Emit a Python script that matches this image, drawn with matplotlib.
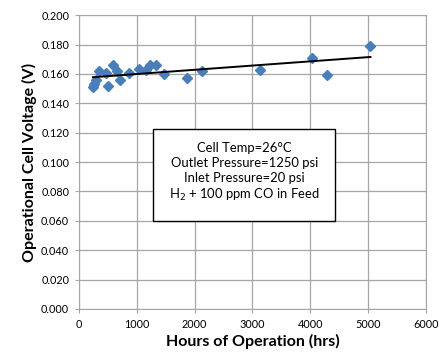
import numpy as np
from matplotlib import pyplot as plt
from matplotlib.patches import Rectangle

plt.rcParams['font.family'] = ['Lato', 'DejaVu Sans']

# hours of operation and measured cell voltage
hours = [242, 265, 294, 346, 467, 507, 594, 652, 715, 860, 1043, 1159, 1234,
         1337, 1471, 1869, 2134, 3131, 4031, 4291, 5040]
voltage = [0.1508, 0.1535, 0.1560, 0.1620, 0.1610, 0.1517, 0.1664, 0.1620,
           0.1558, 0.1608, 0.1633, 0.1630, 0.1664, 0.1664, 0.1600, 0.1570,
           0.1620, 0.1626, 0.1711, 0.1591, 0.1793]

x_ticks = [0, 1000, 2000, 3000, 4000, 5000, 6000]
y_ticks = [0.0, 0.02, 0.04, 0.06, 0.08, 0.10, 0.12, 0.14, 0.16, 0.18, 0.20]

note = ("Cell Temp=26°C\nOutlet Pressure=1250 psi\nInlet Pressure=20 psi\n"
        "H$_2$ + 100 ppm CO in Feed")

fig = plt.figure(figsize=(4.41, 3.6), dpi=100)
ax = fig.add_axes([0.179, 0.1417, 0.787, 0.816])

ax.plot(hours, voltage, 'D', color='#4a7ebb', markersize=4.8, zorder=3)

# linear trendline over the data range
k, b = np.polyfit(hours, voltage, 1)
xs = np.array([min(hours), max(hours)])
ax.plot(xs, k * xs + b, color='black', lw=1.4, zorder=4)

ax.set_xlim(0, 6000)
ax.set_ylim(0, 0.2)
ax.set_xticks(x_ticks)
ax.set_yticks(y_ticks)
ax.set_yticklabels(['%.3f' % v for v in y_ticks])
ax.grid(True, color='#a6a6a6', lw=0.9)
ax.set_axisbelow(True)
for s in ax.spines.values():
  s.set_color('#a6a6a6')
ax.tick_params(labelsize=7.8, color='#a6a6a6', length=3, pad=4)

ax.set_xlabel("Hours of Operation (hrs)", fontsize=11.5, fontweight='bold', labelpad=3)
ax.set_ylabel("Operational Cell Voltage (V)", fontsize=11.5, fontweight='bold', labelpad=3)

# annotation box
ax.add_patch(Rectangle((0.213, 0.300), 0.525, 0.312, transform=ax.transAxes,
                       fc='white', ec='black', lw=1, zorder=5))
ax.text(0.476, 0.465, note, transform=ax.transAxes, ha='center', va='center',
        fontsize=9.4, linespacing=1.3, zorder=6)

fig.savefig("out.png", dpi=100)
